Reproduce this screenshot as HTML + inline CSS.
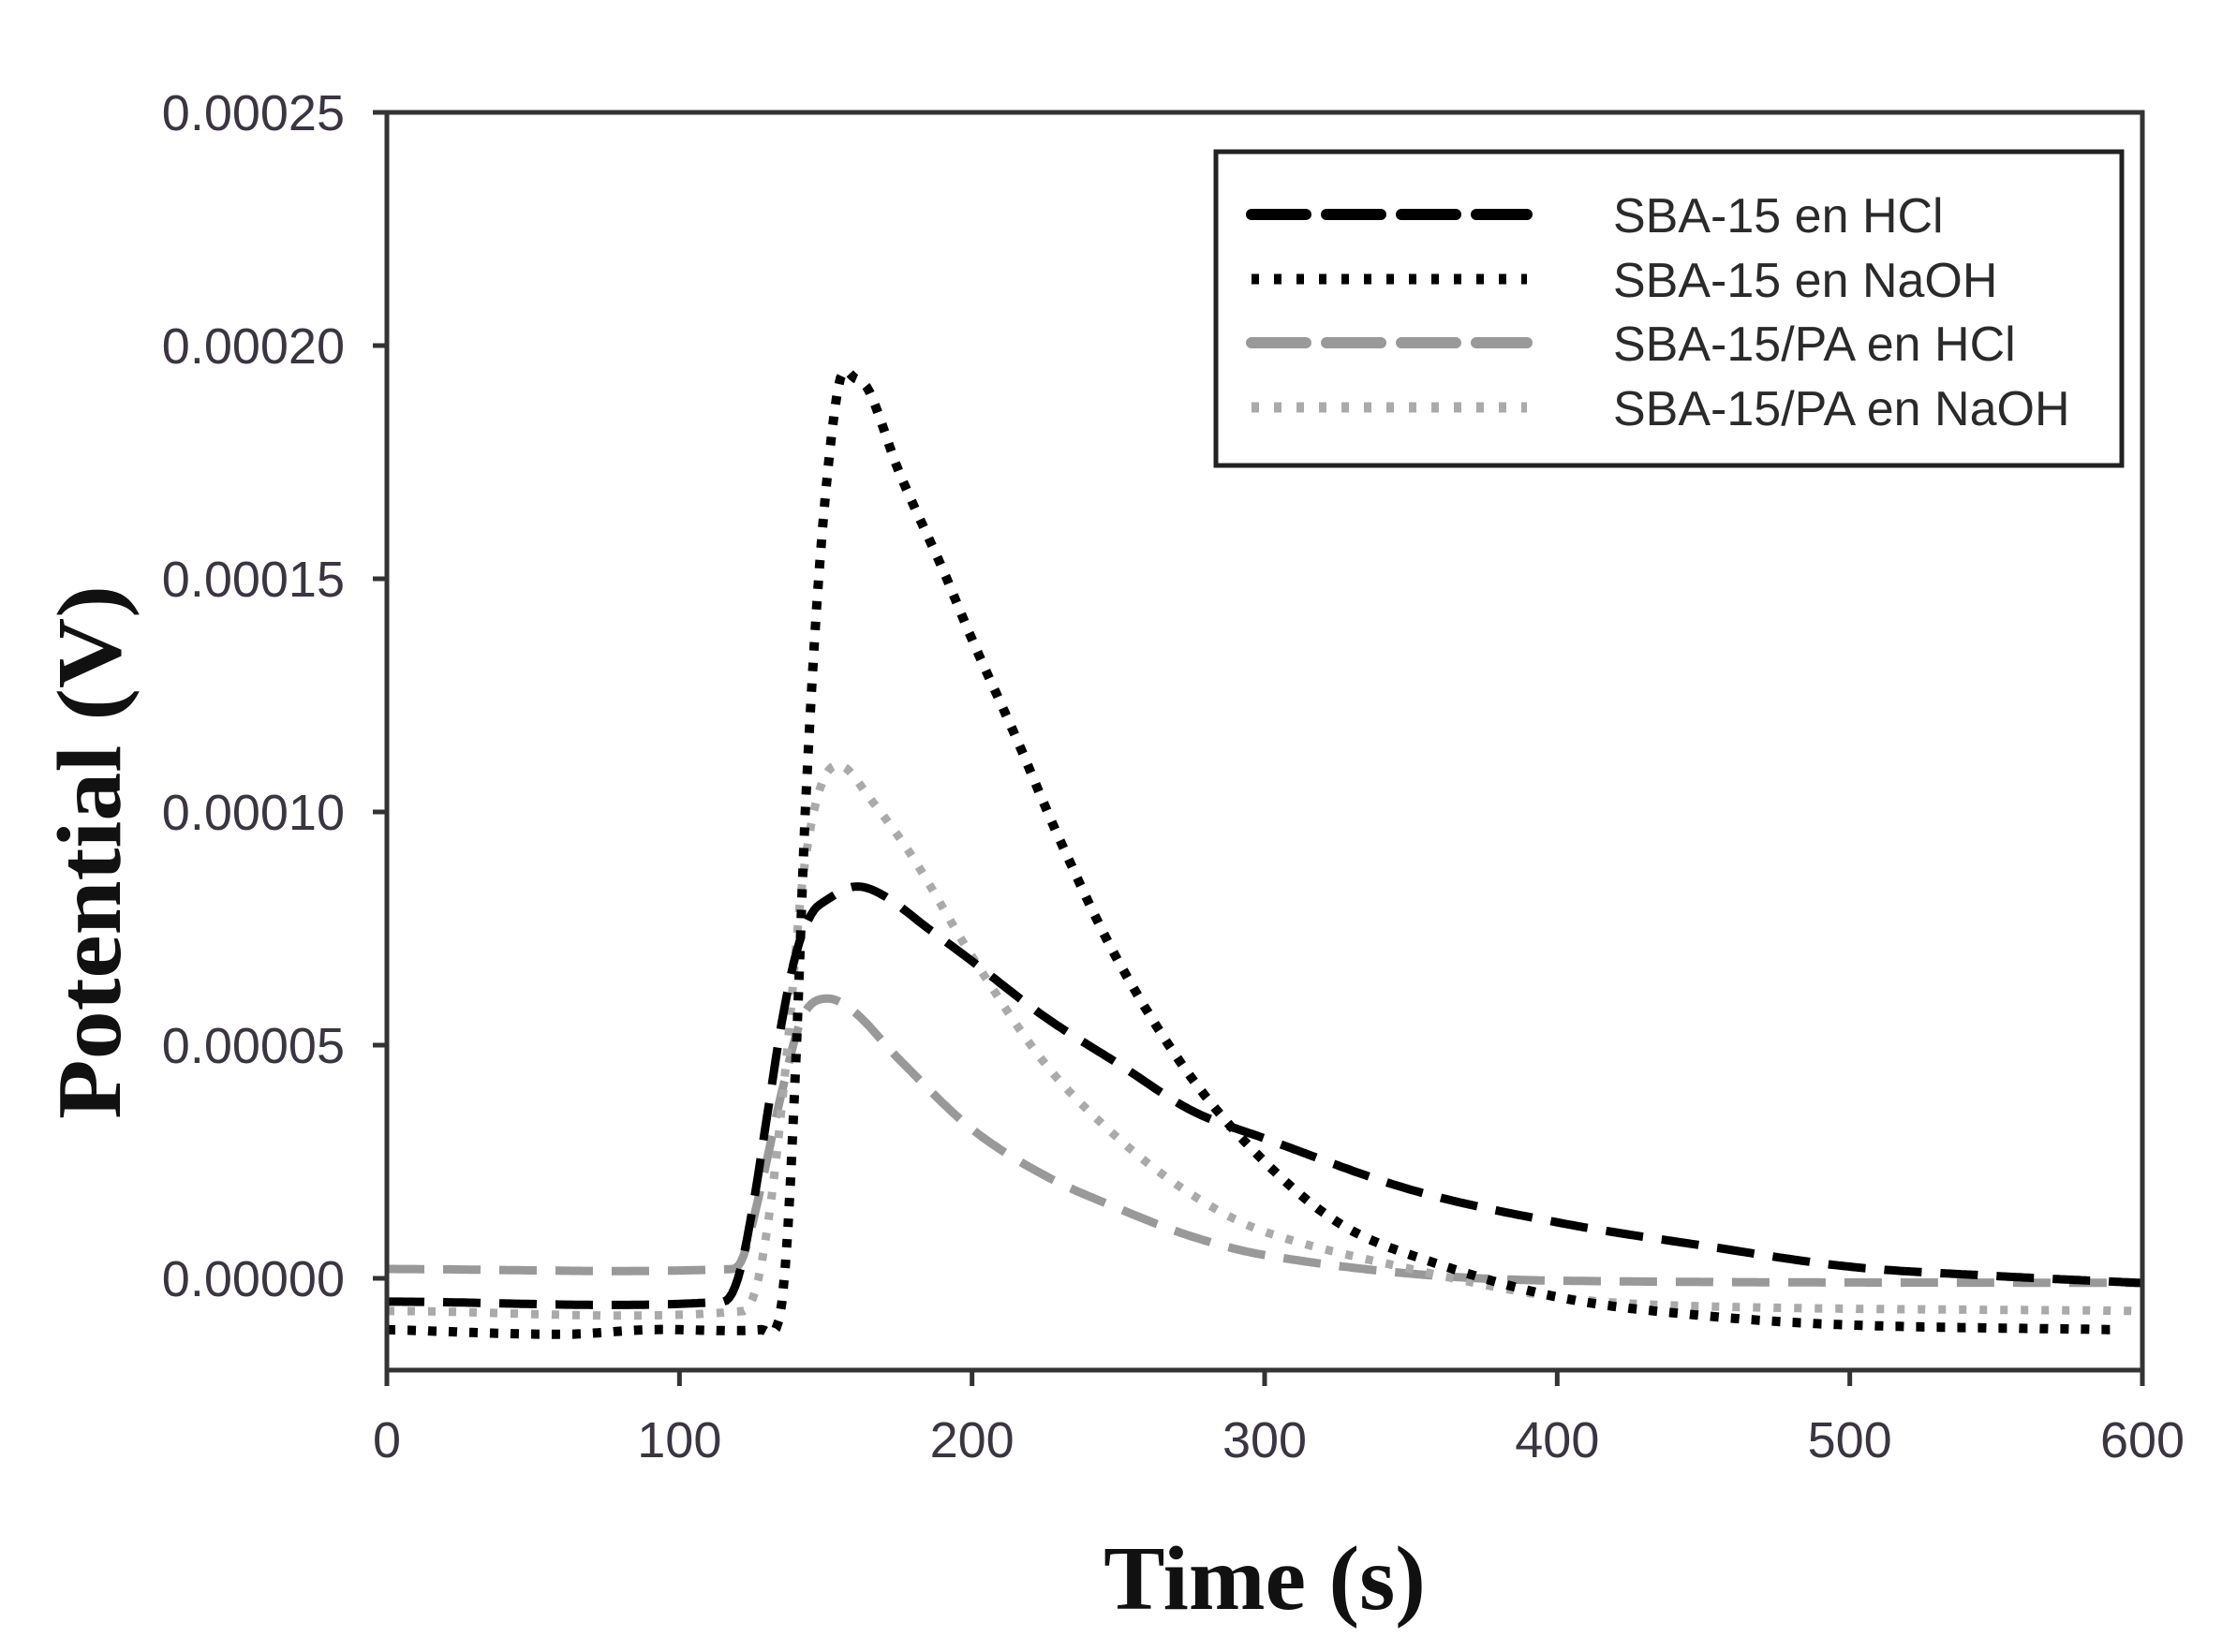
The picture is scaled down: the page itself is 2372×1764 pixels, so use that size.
<!DOCTYPE html>
<html><head><meta charset="utf-8"><style>
html,body{margin:0;padding:0;background:#fff;}
svg{display:block;}
</style></head><body>
<svg id="s" width="2372" height="1764" viewBox="0 0 2372 1764" xmlns="http://www.w3.org/2000/svg">
<defs><clipPath id="cp"><rect x="413" y="120" width="1874" height="1343"/></clipPath></defs>
<rect width="2372" height="1764" fill="#fff"/>
<g id="series" clip-path="url(#cp)"></g>
<rect x="413" y="120" width="1874" height="1343" fill="none" stroke="#333" stroke-width="5"/>
<g stroke="#333" stroke-width="5" id="ticks"></g>
<g font-family="Liberation Sans, sans-serif" font-size="54" fill="#3a3540" id="labels"></g>
<rect x="1298" y="162" width="967" height="335" fill="#fff" stroke="#222" stroke-width="5"/>
<line x1="1336" y1="229" x2="1630" y2="229" stroke="#000" stroke-width="12" stroke-dasharray="58 22" stroke-linecap="round"/>
<line x1="1336" y1="298" x2="1630" y2="298" stroke="#000" stroke-width="11" stroke-dasharray="8 16"/>
<line x1="1336" y1="366" x2="1630" y2="366" stroke="#999" stroke-width="12" stroke-dasharray="58 22" stroke-linecap="round"/>
<line x1="1336" y1="435" x2="1630" y2="435" stroke="#aaa" stroke-width="11" stroke-dasharray="8 16"/>
<g font-family="Liberation Sans, sans-serif" font-size="52" fill="#2a2a2a">
<text x="1722" y="248">SBA-15 en HCl</text>
<text x="1722" y="317">SBA-15 en NaOH</text>
<text x="1722" y="385">SBA-15/PA en HCl</text>
<text x="1722" y="454">SBA-15/PA en NaOH</text>
</g>
<text x="1350" y="1718" text-anchor="middle" font-family="Liberation Serif, serif" font-weight="bold" font-size="98" fill="#111">Time (s)</text>
<text transform="translate(128,910) rotate(-90)" text-anchor="middle" font-family="Liberation Serif, serif" font-weight="bold" font-size="98" fill="#111" textLength="570" lengthAdjust="spacingAndGlyphs">Potential (V)</text>
</svg>
<script>
var X=function(t){return 413+t*1874/600;};
var Y=function(v){return 1365-v*249/5;};
var NS="http://www.w3.org/2000/svg";
function el(p,n,a){var e=document.createElementNS(NS,n);for(var k in a)e.setAttribute(k,a[k]);p.appendChild(e);return e;}
var tk=document.getElementById('ticks'),lb=document.getElementById('labels');
var yl=["0.00000","0.00005","0.00010","0.00015","0.00020","0.00025"];
for(var i=0;i<6;i++){var y=Y(i*5);el(tk,'line',{x1:398,y1:y,x2:413,y2:y});var t=el(lb,'text',{x:368,y:y+19,'text-anchor':'end'});t.textContent=yl[i];}
for(var i=0;i<=6;i++){var x=X(i*100);el(tk,'line',{x1:x,y1:1463,x2:x,y2:1480});var t=el(lb,'text',{x:x,y:1556,'text-anchor':'middle'});t.textContent=String(i*100);}
function path(pts){
  var d="",n=pts.length;
  for(var t=pts[0][0];t<=pts[n-1][0];t+=1){
    var j=0;while(j<n-2&&pts[j+1][0]<t)j++;
    var p0=pts[Math.max(j-1,0)],p1=pts[j],p2=pts[j+1],p3=pts[Math.min(j+2,n-1)];
    var u=(t-p1[0])/(p2[0]-p1[0]);
    var m1=(p2[1]-p0[1])/(p2[0]-p0[0])*(p2[0]-p1[0]),m2=(p3[1]-p1[1])/(p3[0]-p1[0])*(p2[0]-p1[0]);
    var u2=u*u,u3=u2*u;
    var v=(2*u3-3*u2+1)*p1[1]+(u3-2*u2+u)*m1+(-2*u3+3*u2)*p2[1]+(u3-u2)*m2;
    d+=(d?"L":"M")+X(t).toFixed(1)+" "+Y(v).toFixed(1);
  }
  return d;
}
var A=[[0,-0.5],[115,-0.5],[120,0],[125,1.5],[130,3.5],[135,5.5],[140,7],[145,7.8],[150,8.1],[160,8.4],[170,8.2],[185,7.5],[200,6.8],[225,5.6],[250,4.6],[275,3.6],[300,3.0],[350,1.9],[400,1.2],[450,0.7],[500,0.25],[550,0.05],[600,-0.1]];
var B=[[0,-1.1],[60,-1.2],[90,-1.1],[128,-1.1],[134,-0.9],[137,1],[140,5],[143,10],[147,14.5],[151,17.5],[155,19.3],[160,19.3],[165,19.0],[175,17.3],[190,15.2],[200,13.7],[215,11.6],[230,9.4],[250,6.8],[275,4.3],[300,2.5],[325,1.2],[350,0.5],[400,-0.4],[450,-0.8],[500,-1.0],[590,-1.1]];
var C=[[0,0.2],[118,0.2],[122,0.5],[128,2],[135,4],[142,5.6],[150,6.0],[160,5.7],[175,4.7],[200,3.2],[225,2.2],[250,1.5],[275,0.9],[300,0.5],[350,0.1],[400,-0.05],[600,-0.1]];
var D=[[0,-0.7],[122,-0.7],[127,0],[132,2],[137,5],[142,8.5],[148,10.5],[155,11.0],[165,10.3],[180,9.0],[200,6.9],[225,4.6],[250,3.0],[275,1.8],[300,1.0],[350,0.2],[400,-0.4],[450,-0.6],[600,-0.7]];
var g=document.getElementById('series');
el(g,'path',{d:path(C),fill:'none',stroke:'#999','stroke-width':9,'stroke-dasharray':'40 20'});
el(g,'path',{d:path(D),fill:'none',stroke:'#aaa','stroke-width':9,'stroke-dasharray':'8 14'});
el(g,'path',{d:path(A),fill:'none',stroke:'#000','stroke-width':9,'stroke-dasharray':'40 20'});
el(g,'path',{d:path(B),fill:'none',stroke:'#000','stroke-width':10,'stroke-dasharray':'9 13'});
</script>
</body></html>
